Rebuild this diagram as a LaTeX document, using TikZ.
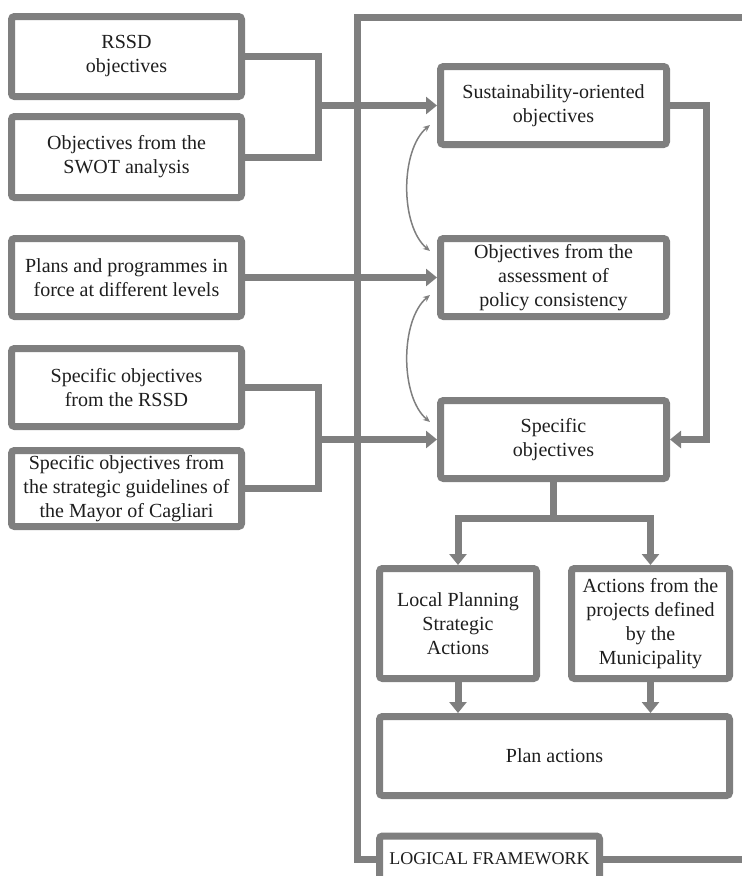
\documentclass[tikz,border=0pt]{standalone}
\usepackage{fontspec}
\setmainfont{Liberation Serif}
\usepackage{tikz}
\usetikzlibrary{arrows.meta}
\definecolor{frameGray}{HTML}{7F7F7F}
\definecolor{inkGray}{HTML}{1E1E1E}

\begin{document}
\begin{tikzpicture}[
x=1pt, y=-1pt,
box/.style={rectangle, draw=frameGray, line width=7pt, rounded corners=3pt, fill=white, align=center, inner sep=0pt, text=inkGray, font=\fontsize{20}{24}\selectfont},
line/.style={draw=frameGray, line width=7pt},
arrow/.style={line, -{Triangle[width=17pt, length=11pt]}},
link/.style={draw=frameGray, line width=1.5pt, {Stealth[length=7pt, width=6pt]}-{Stealth[length=7pt, width=6pt]}}
]
\useasboundingbox (0,0) rectangle (742,876);
\clip (0,0) rectangle (742,876);

% left column
\node[box, minimum width=230pt, minimum height=80pt] (rssd) at (126.5,56.5) {RSSD\\objectives};
\node[box, minimum width=230pt, minimum height=81pt] (swot) at (126.5,157) {Objectives from the\\SWOT analysis};
\node[box, minimum width=230pt, minimum height=78pt] (plans) at (126.5,277.5) {Plans and programmes in\\force at different levels};
\node[box, minimum width=230pt, minimum height=78pt] (sprssd) at (126.5,387.5) {Specific objectives\\from the RSSD};
\node[box, minimum width=230pt, minimum height=76pt] (mayor) at (126.5,488.5) {Specific objectives from\\the strategic guidelines of\\the Mayor of Cagliari};

% right column
\node[box, minimum width=226pt, minimum height=78pt] (sust) at (553.5,105.5) {Sustainability-oriented\\objectives};
\node[box, minimum width=226pt, minimum height=78pt] (policy) at (553.5,277.5) {Objectives from the\\assessment of\\policy consistency};
\node[box, minimum width=226pt, minimum height=78pt] (specobj) at (553.5,439.5) {Specific\\objectives};

\node[box, minimum width=157pt, minimum height=110pt] (lpsa) at (458,623.5) {Local Planning\\Strategic\\Actions};
\node[box, minimum width=158pt, minimum height=110pt] (munic) at (650.5,623.5) {Actions from the\\projects defined\\by the\\Municipality};
\node[box, minimum width=350pt, minimum height=79pt] (planact) at (554.5,756) {Plan actions};

\node[box, minimum width=220pt, minimum height=46pt, font=\fontsize{18}{20}\selectfont] (logfw) at (489.5,859) {LOGICAL FRAMEWORK};

% frame of the logical framework
\coordinate (frametop) at (742,17);
\coordinate (framecorner) at (357,17);
\coordinate (frameend) at (742,859);
\draw[line] (frametop) -- (framecorner) |- (logfw.west);
\draw[line] (logfw.east) -- (frameend);

% inputs
\coordinate (joinA) at (318,105.5);
\coordinate (joinB) at (318,439.5);
\draw[line] (rssd.east) -| (joinA) |- (swot.east);
\draw[arrow] (joinA) -- (sust.west);
\draw[arrow] (plans.east) -- (policy.west);
\draw[line] (sprssd.east) -| (joinB) |- (mayor.east);
\draw[arrow] (joinB) -- (specobj.west);
\draw[arrow] (sust.east) -- ++(36,0) |- (specobj.east);

\draw[link] ([xshift=-7pt, yshift=23pt]sust.south west) .. controls +(-30,25) and +(-30,-25) .. ([xshift=-7pt, yshift=-16pt]policy.north west);
\draw[link] ([xshift=-7pt, yshift=25pt]policy.south west) .. controls +(-30,25) and +(-30,-25) .. ([xshift=-7pt, yshift=-25pt]specobj.north west);

% actions
\draw[line] (specobj.south) -- ++(0,36) coordinate (fork);
\draw[arrow] (fork) -| (lpsa.north);
\draw[arrow] (fork) -| (munic.north);
\draw[arrow] (lpsa.south) -- (lpsa.south |- planact.north);
\draw[arrow] (munic.south) -- (munic.south |- planact.north);
\end{tikzpicture}
\end{document}
